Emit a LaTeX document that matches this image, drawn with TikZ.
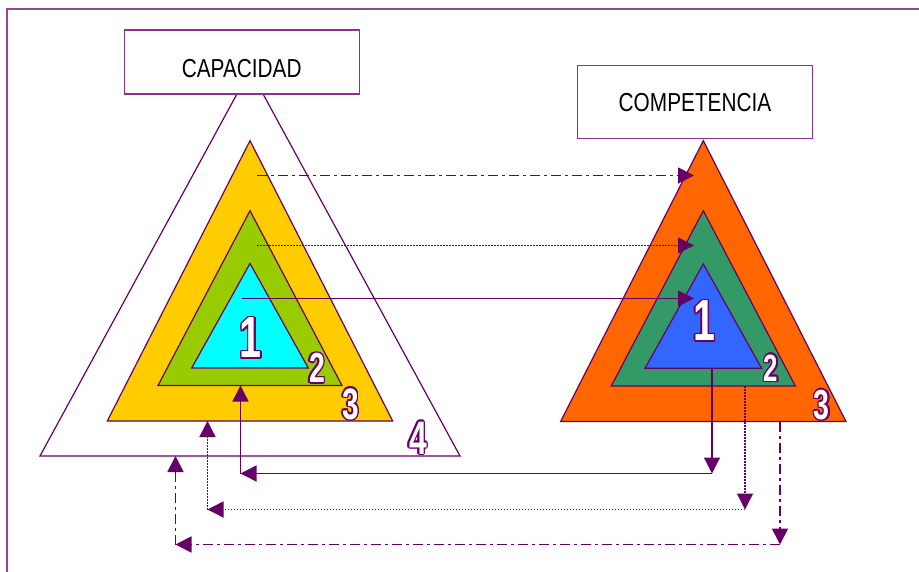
\documentclass[tikz,border=0pt]{standalone}
\usepackage{fontspec}
\setsansfont{Liberation Sans}
\usetikzlibrary{positioning,arrows.meta,calc}

\definecolor{linepurple}{RGB}{102,0,102}
\definecolor{framepurple}{RGB}{153,70,153}
\definecolor{boxpurple}{RGB}{140,50,140}
\definecolor{capyellow}{RGB}{255,204,0}
\definecolor{capgreen}{RGB}{153,204,0}
\definecolor{capcyan}{RGB}{0,255,255}
\definecolor{comporange}{RGB}{255,102,0}
\definecolor{compgreen}{RGB}{51,153,102}
\definecolor{compblue}{RGB}{51,102,255}

% white digit with a purple outline
\newcommand{\levelnumber}[4]{%
	\foreach \ang in {0,30,...,330}
		\node[level_num, text=linepurple, font=\sffamily\bfseries\fontsize{#3}{#3}\selectfont] at ($(#2)+(\ang:1.5pt)$) {\scalebox{0.68}[1]{#4}};
	\node[level_num, text=white, font=\sffamily\bfseries\fontsize{#3}{#3}\selectfont] (#1) at (#2) {\scalebox{0.68}[1]{#4}};
}

\begin{document}
\begin{tikzpicture}[x=1pt, y=-1pt,
		tri_edge/.style={draw=linepurple, line width=1.2pt, line join=miter},
		label_box/.style={draw=boxpurple, fill=white, line width=1.3pt, inner sep=0pt, minimum width=235pt, font=\sffamily\fontsize{26}{26}\selectfont},
		level_num/.style={inner sep=0pt, anchor=center},
		link/.style={draw=linepurple, line width=1.4pt, -{Triangle[length=16pt, width=16pt]}},
		solid_link/.style={link},
		dotted_link/.style={link, dash pattern=on 1.5pt off 1.5pt},
		dashdot_link/.style={link, line width=1.8pt, dash pattern=on 10pt off 4pt on 3pt off 4pt}
		]
		\useasboundingbox (0,0) rectangle (919,572);
		\draw[framepurple, line width=2pt] (6.5,572) -- (6.5,9.5) -- (919,9.5);
		
		% nested triangles: centre x / apex y / base y / half width / colour
		\foreach \cx/\ay/\by/\hw/\col in {250/70/456/210/white, 250/140.7/421/142.7/capyellow, 250/210.7/385.5/92/capgreen, 250/263.5/368/58.3/capcyan,
			703.3/140.7/421.5/142.7/comporange, 703.3/210.7/386/92/compgreen, 703.3/264/368.3/58.3/compblue}
			\draw[tri_edge, fill=\col] (\cx,\ay) -- (\cx+\hw,\by) -- (\cx-\hw,\by) -- cycle;
		
		\node[label_box, minimum height=64pt, text height=31pt, text depth=0pt] (capacidad) at (241.7,62) {\scalebox{0.8}[1]{CAPACIDAD}};
		\node[label_box, minimum height=73pt] (competencia) at (695,102.3) {\scalebox{0.8}[1]{COMPETENCIA}};
		
		\coordinate (top_s) at (257,175.5); \coordinate (top_e) at (694,175.5);
		\coordinate (mid_s) at (257,245.5); \coordinate (mid_e) at (694,245.5);
		\coordinate (low_s) at (241.5,298.5); \coordinate (low_e) at (694,298.5);
		
		\coordinate (b1_a) at (712,368); \coordinate (b1_b) at (712,473.5); \coordinate (b1_c) at (240.5,473.5); \coordinate (b1_d) at (240.5,385.5);
		\coordinate (b2_a) at (745,386); \coordinate (b2_b) at (745,509.5); \coordinate (b2_c) at (207.5,509.5); \coordinate (b2_d) at (207.5,421);
		\coordinate (b3_a) at (780,421.5); \coordinate (b3_b) at (780,544.5); \coordinate (b3_c) at (175.5,544.5); \coordinate (b3_d) at (175.5,456);
		
		\draw[dashdot_link] (top_s) -- (top_e);
		\draw[dotted_link] (mid_s) -- (mid_e);
		\draw[solid_link] (low_s) -- (low_e);
		
		\draw[solid_link] (b1_a) -- (b1_b); \draw[solid_link] (b1_b) -- (b1_c); \draw[solid_link] (b1_c) -- (b1_d);
		\draw[dotted_link] (b2_a) -- (b2_b); \draw[dotted_link] (b2_b) -- (b2_c); \draw[dotted_link] (b2_c) -- (b2_d);
		\draw[dashdot_link] (b3_a) -- (b3_b); \draw[dashdot_link] (b3_b) -- (b3_c); \draw[dashdot_link] (b3_c) -- (b3_d);
		
		\coordinate (p_l1) at (250.7,338); \coordinate (p_l2) at (317,368); \coordinate (p_l3) at (350.7,404); \coordinate (p_l4) at (418,438);
		\coordinate (p_r1) at (704.3,321); \coordinate (p_r2) at (771,368); \coordinate (p_r3) at (821.7,405);
		\levelnumber{cap_one}{p_l1}{58}{1} \levelnumber{cap_two}{p_l2}{42}{2}
		\levelnumber{cap_three}{p_l3}{44}{3} \levelnumber{cap_four}{p_l4}{47}{4}
		\levelnumber{comp_one}{p_r1}{58}{1} \levelnumber{comp_two}{p_r2}{38}{2} \levelnumber{comp_three}{p_r3}{42}{3}
	\end{tikzpicture}
\end{document}
